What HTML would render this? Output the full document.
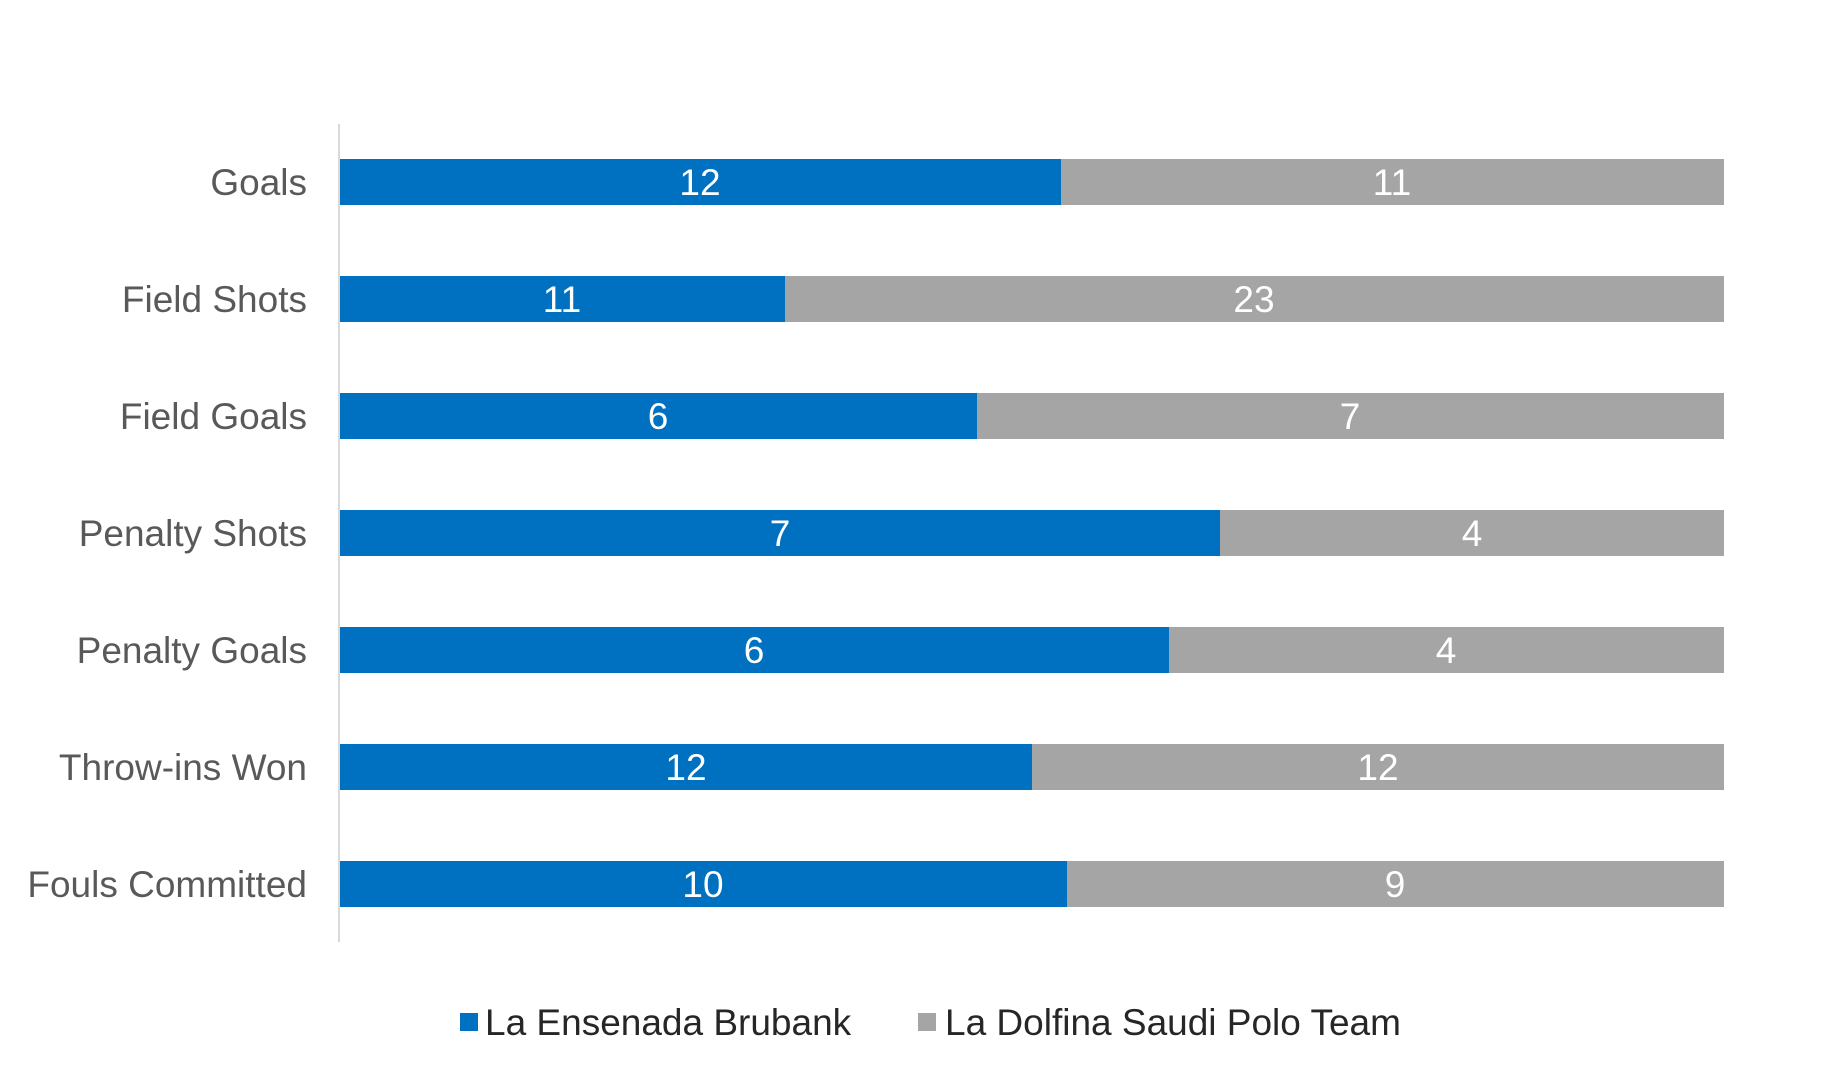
<!DOCTYPE html>
<html><head><style>
body{margin:0;background:#fff;}
svg text{font-family:"Liberation Sans",Arial,sans-serif;}
</style></head><body>
<svg width="1844" height="1085" xmlns="http://www.w3.org/2000/svg">
<rect width="1844" height="1085" fill="#fff"/>
<line x1="339" y1="124" x2="339" y2="942" stroke="#d9d9d9" stroke-width="2"/>
<g font-size="37">
<g fill="#595959" text-anchor="end">
<text x="307" y="195">Goals</text>
<text x="307" y="312">Field Shots</text>
<text x="307" y="429">Field Goals</text>
<text x="307" y="546">Penalty Shots</text>
<text x="307" y="663">Penalty Goals</text>
<text x="307" y="780">Throw-ins Won</text>
<text x="307" y="897">Fouls Committed</text>
</g>
<rect x="340" y="159" width="721" height="46" fill="#0070C0"/><rect x="1061" y="159" width="663" height="46" fill="#A5A5A5"/>
<rect x="340" y="276" width="445" height="46" fill="#0070C0"/><rect x="785" y="276" width="939" height="46" fill="#A5A5A5"/>
<rect x="340" y="393" width="637" height="46" fill="#0070C0"/><rect x="977" y="393" width="747" height="46" fill="#A5A5A5"/>
<rect x="340" y="510" width="880" height="46" fill="#0070C0"/><rect x="1220" y="510" width="504" height="46" fill="#A5A5A5"/>
<rect x="340" y="627" width="829" height="46" fill="#0070C0"/><rect x="1169" y="627" width="555" height="46" fill="#A5A5A5"/>
<rect x="340" y="744" width="692" height="46" fill="#0070C0"/><rect x="1032" y="744" width="692" height="46" fill="#A5A5A5"/>
<rect x="340" y="861" width="727" height="46" fill="#0070C0"/><rect x="1067" y="861" width="657" height="46" fill="#A5A5A5"/>
<g fill="#fff" text-anchor="middle">
<text x="700" y="195">12</text><text x="1392" y="195">11</text>
<text x="562" y="312">11</text><text x="1254" y="312">23</text>
<text x="658" y="429">6</text><text x="1350" y="429">7</text>
<text x="780" y="546">7</text><text x="1472" y="546">4</text>
<text x="754" y="663">6</text><text x="1446" y="663">4</text>
<text x="686" y="780">12</text><text x="1378" y="780">12</text>
<text x="703" y="897">10</text><text x="1395" y="897">9</text>
</g>
<rect x="460" y="1013" width="18" height="18" fill="#0070C0"/>
<text x="485" y="1035" fill="#262626">La Ensenada Brubank</text>
<rect x="918" y="1013" width="18" height="18" fill="#A5A5A5"/>
<text x="945" y="1035" fill="#262626">La Dolfina Saudi Polo Team</text>
</g>
</svg>
</body></html>
